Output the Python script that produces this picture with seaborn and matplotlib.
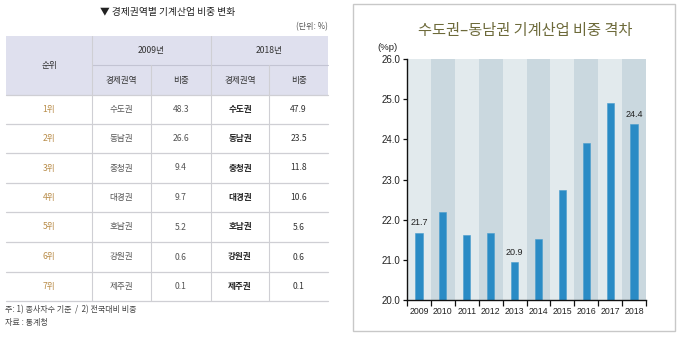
import matplotlib
matplotlib.use("Agg")
import matplotlib.pyplot as plt
import matplotlib.patches as mpatches
from matplotlib.ticker import FixedLocator, FormatStrFormatter
import seaborn as sns
import pandas as pd

# ---------------- data ----------------
years = ["2009", "2010", "2011", "2012", "2013", "2014", "2015", "2016", "2017", "2018"]
gap = [21.67, 22.18, 21.63, 21.67, 20.94, 21.52, 22.75, 23.90, 24.90, 24.38]
label_years = {"2009": "21.7", "2013": "20.9", "2018": "24.4"}

ranks = ["1위", "2위", "3위", "4위", "5위", "6위", "7위"]
regions_2009 = ["수도권", "동남권", "충청권", "대경권", "호남권", "강원권", "제주권"]
share_2009 = ["48.3", "26.6", "9.4", "9.7", "5.2", "0.6", "0.1"]
regions_2018 = ["수도권", "동남권", "충청권", "대경권", "호남권", "강원권", "제주권"]
share_2018 = ["47.9", "23.5", "11.8", "10.6", "5.6", "0.6", "0.1"]

table_title = "▼ 경제권역별 기계산업 비중 변화"
unit_text = "(단위: %)"
head_rank = "순위"
head_years = ["2009년", "2018년"]
head_sub = ["경제권역", "비중", "경제권역", "비중"]
notes = ["주: 1) 종사자수 기준  /  2) 전국대비 비중", "자료 : 통계청"]
chart_title = "수도권–동남권 기계산업 비중 격차"
y_unit = "(%p)"

# ---------------- style ----------------
sns.set_theme(style="white")
KR = ["Noto Sans CJK KR", "DejaVu Sans"]
NUM = ["Liberation Sans", "DejaVu Sans"]
plt.rcParams["font.family"] = KR

fig = plt.figure(figsize=(6.8, 3.37), dpi=100)

# ---------------- table (pixel layout) ----------------
tax = fig.add_axes([0, 0, 1, 1])
tax.set_xlim(0, 680)
tax.set_ylim(337, 0)
tax.axis("off")

x0, x1 = 6, 328
col_edges = [6, 92, 151, 211, 269, 328]
col_centers = [(col_edges[i] + col_edges[i + 1]) / 2 for i in range(5)]
hdr_top, hdr_mid, hdr_bot = 36, 65, 95
row_edges = [95, 124, 153, 183, 212, 242, 272, 301]
line_c = "#cfcfd4"
hdr_bg = "#dfe0ee"

tax.add_patch(mpatches.Rectangle((x0, hdr_top), x1 - x0, hdr_bot - hdr_top,
                                 facecolor=hdr_bg, edgecolor="none", zorder=0))
# header lines
tax.plot([92, x1], [hdr_mid, hdr_mid], color="#c3c4d3", lw=0.8)
for xe in [92, 211]:
    tax.plot([xe, xe], [hdr_top, row_edges[-1]], color=line_c, lw=0.8)
for xe in [151, 269]:
    tax.plot([xe, xe], [hdr_mid, row_edges[-1]], color=line_c, lw=0.8)
for ye in row_edges:
    tax.plot([x0, x1], [ye, ye], color=line_c, lw=0.9)

fs_t = 6.2
tax.text(168, 12, table_title, ha="center", va="center", fontsize=7, color="#222222", family=KR)
tax.text(x1, 27, unit_text, ha="right", va="center", fontsize=5.8, color="#555555", family=KR)
tax.text(col_centers[0], (hdr_top + hdr_bot) / 2, head_rank, ha="center", va="center",
         fontsize=fs_t, color="#333333")
tax.text((92 + 211) / 2, (hdr_top + hdr_mid) / 2, head_years[0], ha="center", va="center",
         fontsize=fs_t, color="#333333")
tax.text((211 + 328) / 2, (hdr_top + hdr_mid) / 2, head_years[1], ha="center", va="center",
         fontsize=fs_t, color="#333333")
for i, h in enumerate(head_sub):
    tax.text(col_centers[i + 1], (hdr_mid + hdr_bot) / 2, h, ha="center", va="center",
             fontsize=fs_t, color="#333333")

for r in range(len(ranks)):
    yc = (row_edges[r] + row_edges[r + 1]) / 2
    tax.text(col_centers[0], yc, ranks[r], ha="center", va="center", fontsize=fs_t, color="#b98d4a")
    tax.text(col_centers[1], yc, regions_2009[r], ha="center", va="center", fontsize=fs_t, color="#555555")
    tax.text(col_centers[2], yc, share_2009[r], ha="center", va="center", fontsize=fs_t, color="#555555")
    tax.text(col_centers[3], yc, regions_2018[r], ha="center", va="center", fontsize=fs_t,
             color="#222222", fontweight="bold")
    tax.text(col_centers[4], yc, share_2018[r], ha="center", va="center", fontsize=fs_t, color="#333333")

tax.text(5, 310, notes[0], ha="left", va="center", fontsize=5.8, color="#444444")
tax.text(5, 323, notes[1], ha="left", va="center", fontsize=5.8, color="#444444")

# chart panel box
tax.add_patch(mpatches.Rectangle((353, 4), 322, 327, facecolor="white",
                                 edgecolor="#c8c8c8", lw=1.0, zorder=0))
tax.text(525, 30, chart_title, ha="center", va="center", fontsize=11, color="#6d6a3a", family=KR)
tax.text(387, 48, y_unit, ha="center", va="center", fontsize=6.8, color="#222222", family=NUM)

# ---------------- bar chart ----------------
ax = fig.add_axes([407 / 680, 1 - 300 / 337, 239 / 680, 241 / 337])
ax.set_facecolor("none")
df = pd.DataFrame({"year": years, "gap": gap})
for i in range(len(years)):
    ax.axvspan(i - 0.5, i + 0.5, color="#e2eaed" if i % 2 == 0 else "#cad8df", lw=0, zorder=0)
sns.barplot(data=df, x="year", y="gap", color="#2a8bc5", width=0.3, saturation=1,
            edgecolor="#4a9dcd", linewidth=0.4, ax=ax, zorder=2)
ax.set_xlim(-0.5, len(years) - 0.5)
ax.set_ylim(20, 26)
ax.set_xlabel("")
ax.set_ylabel("")
ax.yaxis.set_major_locator(FixedLocator([20, 21, 22, 23, 24, 25, 26]))
ax.yaxis.set_major_formatter(FormatStrFormatter("%.1f"))
ax.xaxis.set_minor_locator(FixedLocator([i - 0.5 for i in range(len(years) + 1)]))
ax.tick_params(axis="x", which="major", length=0, pad=5, labelsize=6.3, colors="#222222")
ax.tick_params(axis="x", which="minor", length=4, width=0.9, color="#111111", direction="out", bottom=True)
ax.tick_params(axis="y", length=3, width=0.9, color="#111111", direction="out", pad=2,
               labelsize=7, labelcolor="#222222", left=True)
for lab in ax.get_xticklabels() + ax.get_yticklabels():
    lab.set_family(NUM)
for s in ["top", "right"]:
    ax.spines[s].set_visible(False)
for s in ["left", "bottom"]:
    ax.spines[s].set_color("#111111")
    ax.spines[s].set_linewidth(1.0)
    ax.spines[s].set_zorder(5)

for i, (yr, v) in enumerate(zip(years, gap)):
    if yr in label_years:
        ax.annotate(label_years[yr], (i, v), xytext=(0, 4), textcoords="offset points",
                    ha="center", va="bottom", fontsize=6.5, color="#222222", family=NUM, zorder=4)

fig.savefig("out.png", dpi=100)
